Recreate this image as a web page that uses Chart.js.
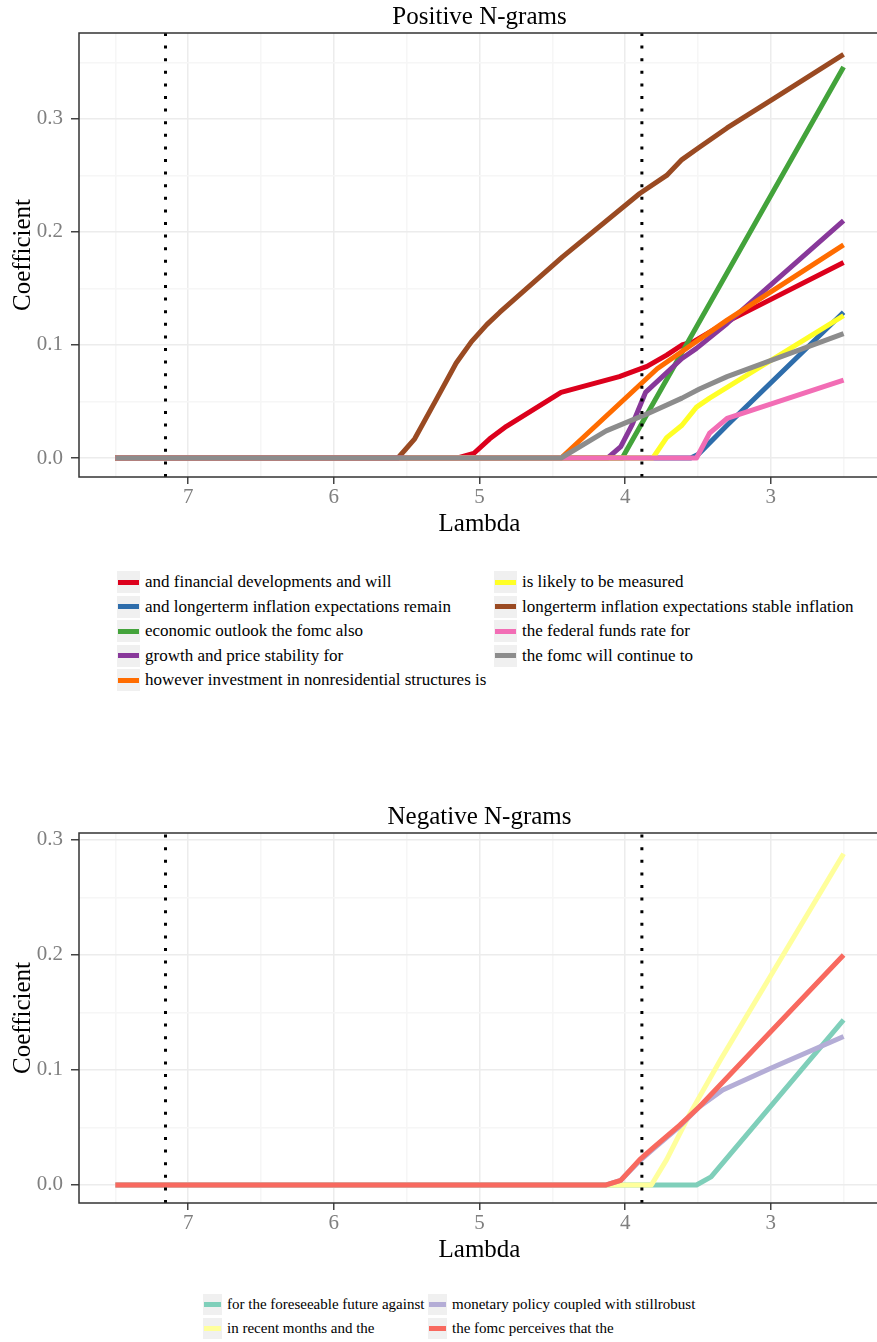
<!DOCTYPE html>
<html>
<head>
<meta charset="utf-8">
<script src="https://cdn.jsdelivr.net/npm/chart.js@4.4.1/dist/chart.umd.min.js"></script>
<style>
	html, body { margin: 0; padding: 0; background: #fff; overflow: hidden; }
	#page { position: relative; width: 877px; height: 1342px; overflow: hidden; font-family: "Liberation Serif", "Times New Roman", serif; }
	canvas { position: absolute; left: 0; }
	.key { position: absolute; background: #f0f0f0; }
	.key span { position: absolute; left: 1px; right: 1px; top: 50%; }
	.label { position: absolute; white-space: nowrap; color: #000; }
</style>
</head>
<body>
<div id="page">
	<canvas id="posChart" width="884" height="545" style="top:0px"></canvas>
	<canvas id="negChart" width="884" height="471" style="top:800px"></canvas>
	<div id="posLegend"></div>
	<div id="negLegend"></div>
</div>
<script>
// Data: lambda breakpoints and coefficients per n-gram

const posNames = [
	"and financial developments and will",
	"and longerterm inflation expectations remain",
	"economic outlook the fomc also",
	"growth and price stability for",
	"however investment in nonresidential structures is",
	"is likely to be measured",
	"longerterm inflation expectations stable inflation",
	"the federal funds rate for",
	"the fomc will continue to",
];
const posLambda = [
	[7.5, 5.15, 5.04, 4.93, 4.815, 4.44, 4.04, 3.85, 3.715, 3.61, 3.53, 3.28, 2.5],
	[7.5, 3.55, 3.5, 3.3, 2.5],
	[7.5, 4.02, 2.5],
	[7.5, 4.12, 4.03, 3.95, 3.86, 3.61, 3.51, 3.3, 2.5],
	[7.5, 4.44, 3.78, 3.3, 2.5],
	[7.5, 3.81, 3.715, 3.61, 3.51, 3.42, 2.5],
	[7.5, 5.56, 5.445, 5.3, 5.16, 5.055, 4.95, 4.86, 4.43, 3.9, 3.715, 3.61, 3.5, 3.3, 2.98, 2.5],
	[7.5, 3.51, 3.42, 3.3, 2.5],
	[7.5, 4.44, 4.13, 3.85, 3.61, 3.49, 3.3, 2.5],
];
const posCoef = [
	[0, 0, 0.004, 0.017, 0.028, 0.058, 0.072, 0.081, 0.091, 0.1, 0.103, 0.122, 0.173],
	[0, 0, 0.003, 0.029, 0.129],
	[0, 0, 0.346],
	[0, 0, 0.01, 0.03, 0.058, 0.088, 0.097, 0.119, 0.21],
	[0, 0, 0.079, 0.122, 0.1885],
	[0, 0, 0.018, 0.029, 0.045, 0.053, 0.126],
	[0, 0, 0.017, 0.051, 0.084, 0.103, 0.118, 0.129, 0.178, 0.234, 0.25, 0.264, 0.274, 0.292, 0.318, 0.357],
	[0, 0, 0.022, 0.035, 0.069],
	[0, 0, 0.024, 0.039, 0.053, 0.061, 0.072, 0.11],
];
const posColors = ["#dc001c", "#2e6dab", "#43a33b", "#88389a", "#ff6c00", "#ffff26", "#9a4a22", "#f26db5", "#8c8c8c"];

const negNames = [
	"for the foreseeable future against",
	"in recent months and the",
	"monetary policy coupled with stillrobust",
	"the fomc perceives that the",
];
const negLambda = [
	[7.5, 3.51, 3.41, 2.5],
	[7.5, 3.82, 3.715, 3.555, 3.344, 2.5],
	[7.5, 4.13, 4.03, 3.9, 3.81, 3.625, 3.49, 3.33, 3.0, 2.5],
	[7.5, 4.13, 4.03, 3.9, 3.81, 3.625, 3.49, 2.5],
];
const negCoef = [
	[0, 0, 0.007, 0.1435],
	[0, 0, 0.022, 0.062, 0.109, 0.288],
	[0, 0, 0.004, 0.021, 0.031, 0.051, 0.068, 0.0826, 0.1015, 0.129],
	[0, 0, 0.004, 0.022, 0.032, 0.052, 0.068, 0.2],
];
const negColors = ["#7fcfba", "#ffff9c", "#b4add6", "#f8695f"];

// dotted lambda cut-offs and axis ticks
const cutoffs = [7.156, 3.885];
const xTicks = [3, 4, 5, 6, 7];
const posYTicks = [0.0, 0.1, 0.2, 0.3];
const negYTicks = [0.0, 0.1, 0.2, 0.3];

const serif = '"Liberation Serif", "Times New Roman", serif';
Chart.defaults.font.family = serif;

// grid lines: majors plus half-way minors inside the range
function withMinors(majors, lo, hi) {
	let step = majors[1] - majors[0];
	let all = [];
	for (let i = 0; i < majors.length; i++) {
		all.push({ value: majors[i], major: true });
		all.push({ value: majors[i] + step / 2, major: false });
		if (i == 0) all.push({ value: majors[i] - step / 2, major: false });
	}
	all = all.filter(t => t.value >= lo && t.value <= hi);
	all.sort((a, b) => a.value - b.value);
	return all;
}

// panel border
const framePlugin = {
	id: "frame",
	afterDraw(chart) {
		const a = chart.chartArea;
		const ctx = chart.ctx;
		ctx.save();
		ctx.strokeStyle = "#333333";
		ctx.lineWidth = 1.5;
		ctx.strokeRect(a.left, a.top, a.right - a.left, a.bottom - a.top);
		ctx.restore();
	},
};

function makeChart(id, title, names, lambdas, coefs, colors, yMin, yMax, yTicks) {
	let datasets = [];
	for (let i = 0; i < names.length; i++) {
		let pts = [];
		for (let j = 0; j < lambdas[i].length; j++) {
			pts.push({ x: lambdas[i][j], y: coefs[i][j] });
		}
		datasets.push({
			label: names[i],
			data: pts,
			borderColor: colors[i],
			borderWidth: 5,
			pointRadius: 0,
			tension: 0,
			borderJoinStyle: "round",
			order: names.length - i + 1, // later series on top
		});
	}
	cutoffs.forEach(function (c) {
		datasets.push({
			label: "cutoff",
			data: [{ x: c, y: yMin }, { x: c, y: yMax }],
			borderColor: "#000",
			borderWidth: 3,
			borderDash: [3, 9.6],
			pointRadius: 0,
			order: 0,
		});
	});

	const xMinor = withMinors(xTicks, 2.25, 7.75);
	const yMinor = withMinors(yTicks, yMin, yMax);

	return new Chart(document.getElementById(id), {
		type: "line",
		data: { datasets: datasets },
		plugins: [framePlugin],
		options: {
			responsive: false,
			animation: false,
			layout: { padding: { left: 0, right: 4, top: 0, bottom: 0 } },
			plugins: {
				legend: { display: false },
				tooltip: { enabled: false },
				title: {
					display: true,
					text: title,
					fullSize: false,
					color: "#000",
					font: { size: 25, weight: "normal" },
					padding: { top: 2, bottom: 1 },
				},
			},
			scales: {
				x: {
					type: "linear",
					reverse: true,
					min: 2.25,
					max: 7.75,
					afterBuildTicks: s => { s.ticks = xMinor.map(t => ({ value: t.value, major: t.major })); },
					afterFit: s => { s.height = 68; },
					ticks: {
						color: "#7f7f7f",
						font: { size: 21 },
						padding: 1,
						maxRotation: 0,
						autoSkip: false,
						callback: v => (Number.isInteger(v) ? String(v) : ""),
					},
					grid: {
						color: ctx => (ctx.tick && ctx.tick.major ? "#ececec" : "#f6f6f6"),
						lineWidth: 1.5,
						tickLength: 7,
						tickWidth: 1.5,
						tickColor: ctx => (ctx.tick && ctx.tick.major ? "#444444" : "rgba(0,0,0,0)"),
					},
					border: { display: false },
					title: {
						display: true,
						text: "Lambda",
						color: "#000",
						font: { size: 25 },
						padding: { top: 0, bottom: 6 },
					},
				},
				y: {
					type: "linear",
					min: yMin,
					max: yMax,
					afterBuildTicks: s => { s.ticks = yMinor.map(t => ({ value: t.value, major: t.major })); },
					afterFit: s => { s.width = 79; },
					ticks: {
						color: "#7f7f7f",
						font: { size: 21 },
						padding: 8,
						autoSkip: false,
						callback: function (v) {
							let isMajor = yTicks.some(t => Math.abs(t - v) < 1e-9);
							return isMajor ? v.toFixed(1) : "";
						},
					},
					grid: {
						color: ctx => (ctx.tick && ctx.tick.major ? "#ececec" : "#f6f6f6"),
						lineWidth: 1.5,
						tickLength: 8,
						tickWidth: 1.5,
						tickColor: ctx => (ctx.tick && ctx.tick.major ? "#444444" : "rgba(0,0,0,0)"),
					},
					border: { display: false },
					title: {
						display: true,
						text: "Coefficient",
						color: "#000",
						font: { size: 25 },
						padding: { top: 8, bottom: 0 },
					},
				},
			},
		},
	});
}

// Legend, filled column by column like the original
function buildLegend(divId, names, colors, opts) {
	const div = document.getElementById(divId);
	let rows = Math.ceil(names.length / 2);
	for (let i = 0; i < names.length; i++) {
		let col = Math.floor(i / rows);
		let row = i % rows;
		let left = opts.colX[col];
		let top = opts.top + row * opts.pitch;

		let key = document.createElement("div");
		key.className = "key";
		key.style.left = left + "px";
		key.style.top = top + "px";
		key.style.width = opts.keyW + "px";
		key.style.height = opts.keyH + "px";
		let line = document.createElement("span");
		line.style.background = colors[i];
		line.style.height = opts.lineH + "px";
		line.style.marginTop = -opts.lineH / 2 + "px";
		key.appendChild(line);
		div.appendChild(key);

		let label = document.createElement("div");
		label.className = "label";
		label.textContent = names[i];
		label.style.left = left + opts.keyW + 5 + "px";
		label.style.top = top + "px";
		label.style.height = opts.keyH + "px";
		label.style.lineHeight = opts.keyH + "px";
		label.style.fontSize = opts.fontSize + "px";
		div.appendChild(label);
	}
}

makeChart("posChart", "Positive N-grams", posNames, posLambda, posCoef, posColors, -0.0168, 0.376, posYTicks);
makeChart("negChart", "Negative N-grams", negNames, negLambda, negCoef, negColors, -0.0157, 0.306, negYTicks);

buildLegend("posLegend", posNames, posColors, { colX: [117, 494], top: 571, pitch: 24.6, keyW: 23, keyH: 22, lineH: 5, fontSize: 17 });
buildLegend("negLegend", negNames, negColors, { colX: [203, 428], top: 1294, pitch: 24, keyW: 19, keyH: 21, lineH: 4.5, fontSize: 15 });
</script>
</body>
</html>
